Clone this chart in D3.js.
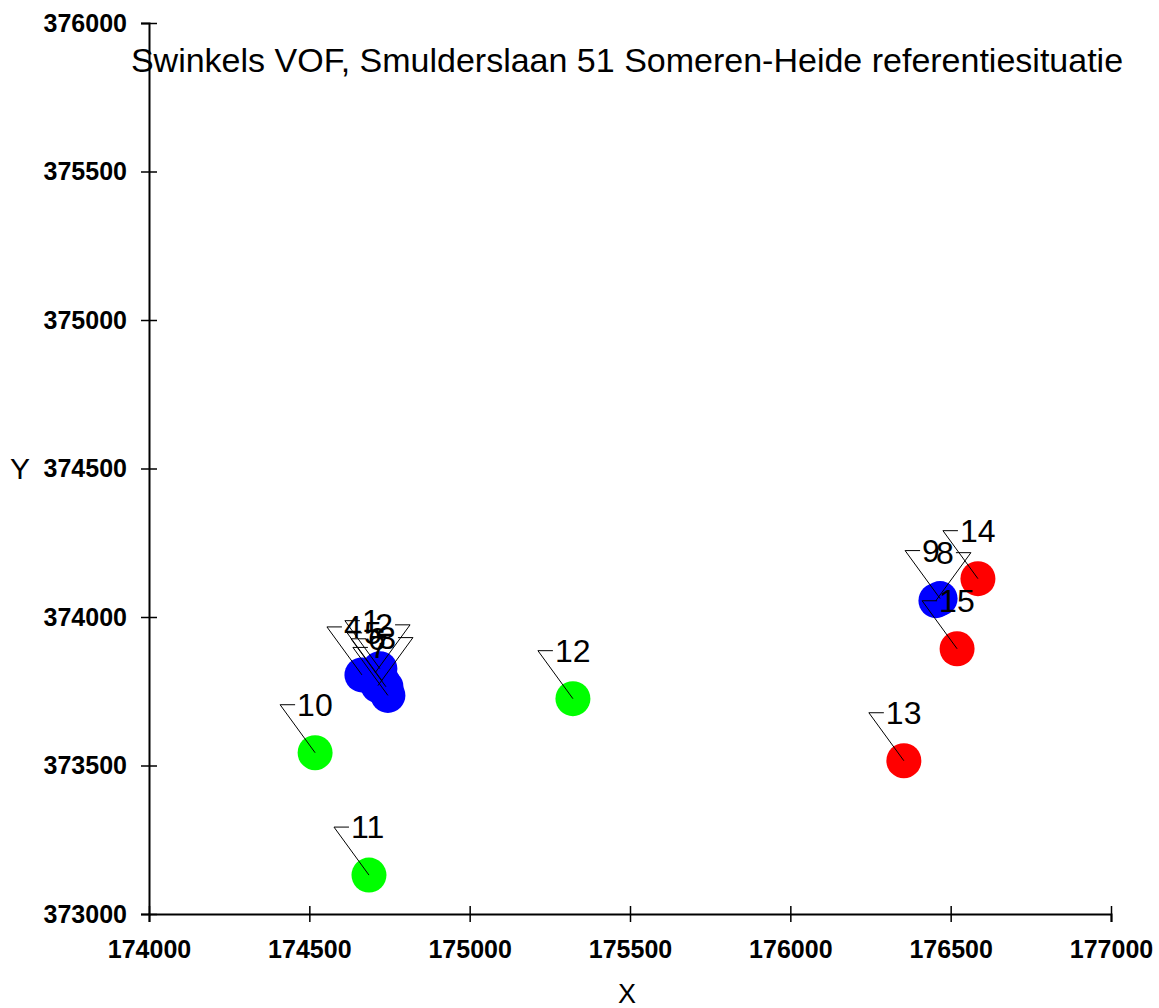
<!DOCTYPE html>
<html>
<head>
<meta charset="utf-8">
<script src="https://cdn.jsdelivr.net/npm/d3@7.9.0/dist/d3.min.js"></script>
<style>
  html, body { margin: 0; padding: 0; background: #fff; }
  svg { display: block; }
  text { font-family: "Liberation Sans", Arial, sans-serif; fill: #000; }
</style>
</head>
<body>
<svg id="chart" width="1159" height="1008"></svg>
<script>
const pointIds = [1, 2, 3, 4, 5, 6, 7, 8, 9, 10, 11, 12, 13, 14, 15];
const pointX = [174720, 174705, 174714, 174664, 174727, 174739, 174745, 176454, 176467,
                174518, 174686, 175322, 176354, 176585, 176520];
const pointY = [373826, 373812, 373769, 373805, 373785, 373765, 373736, 374055, 374062,
                373543, 373131, 373725, 373516, 374129, 373893];
const pointGroup = ["blue", "blue", "blue", "blue", "blue", "blue", "blue", "blue", "blue",
                    "green", "green", "green", "red", "red", "red"];

const xTicks = [174000, 174500, 175000, 175500, 176000, 176500, 177000];
const yTicks = [373000, 373500, 374000, 374500, 375000, 375500, 376000];

const title = "Swinkels VOF, Smulderslaan 51 Someren-Heide referentiesituatie";

// labels whose leader goes up-right, text to the left of the hook
const flippedLabels = [2, 3, 8];

const points = pointIds.map((id, i) => ({
  id, x: pointX[i], y: pointY[i], group: pointGroup[i]
}));

const svg = d3.select("#chart");

const x = d3.scaleLinear().domain([174000, 177000]).range([149, 1111]);
const y = d3.scaleLinear().domain([373000, 376000]).range([914, 23]);

const color = d3.scaleOrdinal()
  .domain(["blue", "green", "red"])
  .range(["#0000ff", "#00ff00", "#ff0000"]);

// axes
const xAxis = svg.append("g")
  .attr("transform", `translate(0,${y(373000)})`)
  .call(d3.axisBottom(x).tickValues(xTicks).tickFormat(d3.format("d")).tickSizeOuter(0).tickSize(8));

const yAxis = svg.append("g")
  .attr("transform", `translate(${x(174000)},0)`)
  .call(d3.axisLeft(y).tickValues(yTicks).tickFormat(d3.format("d")).tickSizeOuter(0).tickSize(8));

[xAxis, yAxis].forEach((g) => {
  g.select(".domain").attr("stroke", "#000").attr("stroke-width", 2);
  g.selectAll(".tick line").attr("stroke", "#000").attr("stroke-width", 1.5);
  g.selectAll(".tick text")
    .attr("font-family", "Liberation Sans, Arial, sans-serif")
    .attr("font-size", 25)
    .attr("font-weight", "bold")
    .attr("fill", "#000");
});

// ticks cross the axis line
xAxis.selectAll(".tick line").attr("y1", -8).attr("y2", 8);
xAxis.selectAll(".tick text").attr("y", 26);
yAxis.selectAll(".tick line").attr("x1", -8).attr("x2", 8);
yAxis.selectAll(".tick text").attr("x", -22);

// axis names and title
svg.append("text")
  .attr("x", 627).attr("y", 72)
  .attr("text-anchor", "middle")
  .attr("font-size", 34)
  .text(title);

svg.append("text")
  .attr("x", 20).attr("y", 479)
  .attr("text-anchor", "middle")
  .attr("font-size", 30)
  .text("Y");

svg.append("text")
  .attr("x", 627).attr("y", 1003)
  .attr("text-anchor", "middle")
  .attr("font-size", 27)
  .text("X");

// points
svg.append("g")
  .selectAll("circle")
  .data(points)
  .join("circle")
  .attr("cx", (d) => x(d.x))
  .attr("cy", (d) => y(d.y))
  .attr("r", 17.5)
  .attr("fill", (d) => color(d.group));

// leaders + labels
const leadX = 35, leadY = 48, hook = 15;

const labels = svg.append("g")
  .selectAll("g")
  .data(points)
  .join("g");

labels.append("polyline")
  .attr("fill", "none")
  .attr("stroke", "#000")
  .attr("stroke-width", 1)
  .attr("points", (d) => {
    const px = x(d.x), py = y(d.y);
    const s = flippedLabels.includes(d.id) ? 1 : -1;
    const ex = px + s * leadX, ey = py - leadY;
    return `${px},${py} ${ex},${ey} ${ex - s * hook},${ey}`;
  });

labels.append("text")
  .attr("font-size", 32)
  .attr("text-anchor", (d) => flippedLabels.includes(d.id) ? "end" : "start")
  .attr("x", (d) => {
    const s = flippedLabels.includes(d.id) ? 1 : -1;
    return x(d.x) + s * leadX - s * (hook + 2);
  })
  .attr("y", (d) => y(d.y) - leadY + 11)
  .text((d) => d.id);
</script>
</body>
</html>
